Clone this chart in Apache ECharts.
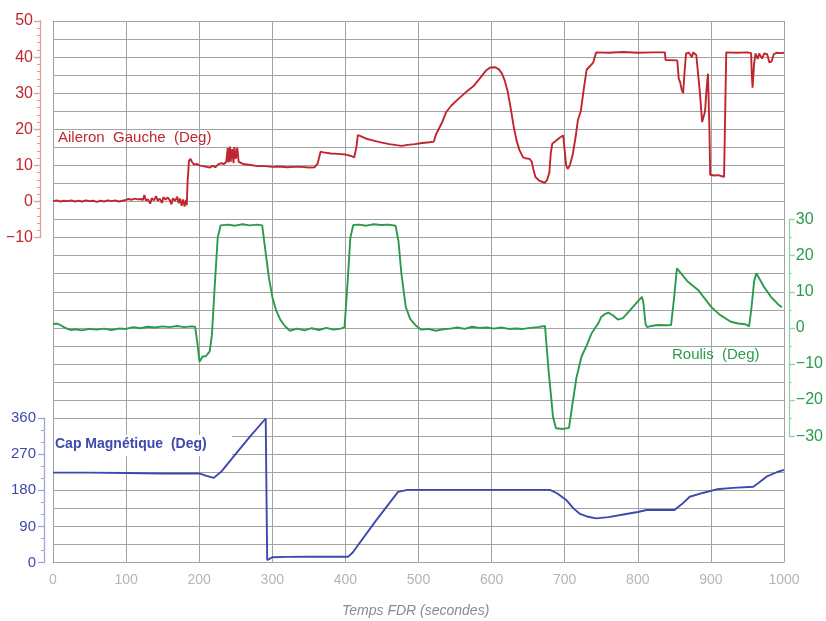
<!DOCTYPE html>
<html><head><meta charset="utf-8">
<script src="https://cdn.jsdelivr.net/npm/echarts@6/dist/echarts.min.js"></script>
<style>html,body{margin:0;padding:0;background:#fff}#c{width:826px;height:621px}</style>
</head><body><div id="c"></div>
<script>
// ---- data ----
const xTicks = [0,100,200,300,400,500,600,700,800,900,1000];
const aileronTicks = [-10,0,10,20,30,40,50];
const roulisTicks = [-30,-20,-10,0,10,20,30];
const capTicks = [0,90,180,270,360];

// Aileron Gauche (Deg) : [time s, deg]
const aileron = [[0,0.1],[5,0.3],[10,0],[15,0.2],[20,0.1],[25,0.3],[30,0],[35,0.2],[40,0],[45,0.3],[50,0.1],[55,0.2],[60,-0.1],[65,0.2],[70,0],[75,0.3],[80,0.1],[85,0.3],[90,0],[95,0.2],[100,0.4],[103,0.7],[108,0.5],[112,0.8],[116,0.6],[120,0.7],[123,0.4],[125,1.8],[127,0.3],[130,0.6],[133,-0.6],[135,0.9],[138,0.3],[141,1.5],[143,0.2],[146,0.8],[149,-0.4],[151,1.2],[154,0.5],[157,1.1],[160,0.3],[162,-0.8],[164,0.9],[167,0.2],[170,1.3],[172,-0.5],[174,0.8],[176,-1.2],[178,0.6],[180,-1.4],[182,0.4],[183,-1.0],[184,5],[186,11.2],[188,11.8],[190,11.0],[193,10.2],[197,10.4],[200,10.0],[205,9.8],[210,9.6],[215,9.4],[218,9.9],[222,9.5],[226,10.3],[230,10.6],[234,10.4],[237,11],[239,14.8],[240,10.8],[242,15.2],[243,11],[245,14.5],[247,10.6],[248,15.1],[250,11.8],[252,14.9],[254,11],[256,10.6],[260,10.4],[270,10.1],[280,9.8],[290,9.8],[300,9.6],[310,9.7],[320,9.5],[330,9.6],[340,9.6],[350,9.4],[358,9.5],[362,10.5],[366,13.8],[370,13.6],[380,13.3],[390,13.2],[400,13.0],[408,12.6],[412,12.2],[415,15],[417,18.4],[420,18.2],[430,17.3],[440,16.8],[450,16.3],[460,15.9],[470,15.6],[477,15.4],[485,15.7],[495,15.9],[505,16.2],[515,16.4],[521,16.6],[524,18.6],[527,19.8],[532,21.8],[538,24.8],[545,26.6],[555,28.5],[565,30.3],[575,31.9],[585,34.4],[592,36.2],[598,37.1],[605,37.2],[610,36.6],[614,35.5],[618,33.5],[622,30.5],[626,26],[630,21],[634,17],[638,14.3],[643,12.2],[648,11.9],[652,11.8],[655,11],[657,9],[660,6.8],[665,5.8],[670,5.4],[673,5.2],[676,6],[679,8],[681,13.5],[683,16],[688,16.8],[694,17.8],[698,18.3],[700,14],[702,10],[704,9],[707,10],[711,13],[715,18],[718,22.5],[722,25],[726,31],[730,36.5],[735,37.6],[739,38.5],[743,41.3],[760,41.2],[780,41.4],[800,41.2],[820,41.3],[837,41.3],[838,39.2],[854,39.1],[856,34],[858,33],[860,31],[862,30],[864,36],[866,41],[870,41.2],[874,40],[876,41.3],[880,40.6],[882,41],[885,30],[888,22],[890,21.5],[892,25],[894,31],[896,35.4],[898,20],[899,7.4],[905,7.2],[910,7.3],[915,7],[918,6.8],[920,30],[921,41.3],[935,41.2],[950,41.3],[955,41.1],[956,35],[957,31.5],[959,38],[961,41],[964,39.5],[966,41],[970,39.6],[973,41],[977,40.8],[980,38.5],[983,38.8],[986,40.8],[990,41.2],[995,41.1],[1000,41.2]];

// Roulis (Deg)
const roulis = [[0,1.0],[5,1.2],[10,0.8],[15,0.2],[20,-0.3],[25,-0.6],[30,-0.4],[40,-0.7],[50,-0.3],[60,-0.5],[70,-0.2],[80,-0.6],[90,-0.2],[100,-0.3],[110,0.2],[120,-0.1],[130,0.3],[140,0.1],[150,0.4],[160,0.2],[170,0.5],[180,0.2],[190,0.4],[195,0.3],[198,-4],[201,-9.4],[205,-8],[210,-7.8],[215,-6.5],[218,-2],[222,12],[226,25],[230,28.4],[240,28.6],[250,28.3],[260,28.7],[270,28.4],[280,28.6],[287,28.4],[291,22],[296,14.2],[301,8.5],[306,4.9],[312,2.2],[319,0.3],[325,-0.8],[335,-0.2],[345,-0.7],[355,-0.1],[365,-0.6],[375,0],[385,-0.5],[395,-0.2],[400,0.2],[404,12],[408,25],[412,28.5],[420,28.6],[430,28.3],[440,28.7],[450,28.5],[460,28.6],[470,28.3],[474,24],[478,15],[484,5.8],[490,2.5],[497,0.8],[505,-0.5],[515,-0.3],[525,-0.8],[535,-0.4],[545,-0.2],[555,0.1],[565,-0.3],[575,0.3],[585,0],[595,0.1],[605,-0.2],[615,0.1],[625,-0.3],[635,-0.2],[645,-0.3],[655,0],[665,0.2],[675,0.5],[680,-12],[686,-24.6],[690,-27.8],[700,-28],[708,-27.7],[712,-22],[718,-14],[725,-8],[732,-5],[739,-1.5],[748,1.2],[752,3],[757,3.8],[762,4.2],[768,3.5],[775,2.3],[782,2.7],[790,4.5],[800,6.8],[808,8.6],[810,7],[813,1],[815,0.2],[820,0.5],[830,0.8],[840,0.7],[848,0.8],[852,8],[856,16.5],[860,15.5],[870,13],[885,10.5],[903,5.8],[915,3.6],[930,1.7],[940,1.2],[950,1],[955,0.4],[958,5],[962,13],[965,15.1],[975,11.5],[985,8.6],[995,6.5],[1000,5.7]];

// Cap Magnétique (Deg)
const cap = [[0,224],[50,224],[100,223],[150,222],[200,222],[210,216],[220,211],[230,226],[250,271],[270,315],[291,359],[292,180],[293,6],[300,13],[320,14],[350,14.5],[380,14.5],[404,14.5],[410,25],[440,100],[472,176],[485,181],[550,181],[600,181],[680,181],[690,172],[702,156],[712,135],[721,121],[732,114],[743,110],[760,113],[784,121],[800,126],[812,131],[850,131],[860,145],[871,164],[890,174],[908,182.5],[930,186],[958,189],[965,198],[976,214],[990,225],[1000,231]];

// ---- chart ----
const RED='#c0262d', GREEN='#2b9a4b', BLUE='#3e49ab';
const L=53, R=42, TOP=21, STEP=18.05;
const chart = echarts.init(document.getElementById('c'), null, {renderer:'canvas'});
const minus = v => String(v).replace('-', '\u2212');
const hiddenX = i => ({gridIndex:i,type:'value',min:0,max:1000,show:false});
function yAx(i,pos,off,min,max,intv,color,light,minor,fs,margin){
  return {gridIndex:i,type:'value',position:pos,offset:off,min:min,max:max,interval:intv,
    axisLine:{show:true,onZero:false,lineStyle:{color:light,width:1.3}},
    axisTick:{show:true,length:6,lineStyle:{color:light,width:1.3}},
    minorTick:{show:true,splitNumber:minor,length:3,lineStyle:{color:light,width:1}},
    splitLine:{show:false},
    axisLabel:{color:color,fontSize:fs,fontFamily:'Liberation Sans, Arial',margin:margin,formatter:minus}};
}
chart.setOption({
  animation:false,
  grid:[
    {left:L,right:R,top:TOP,bottom:58.5},
    {left:L,right:R,top:TOP,height:STEP*12},
    {left:L,right:R,top:TOP+STEP*11,height:STEP*12},
    {left:L,right:R,top:TOP+STEP*22,height:STEP*8}
  ],
  xAxis:[
    {gridIndex:0,type:'value',min:xTicks[0],max:xTicks[xTicks.length-1],interval:100,
      axisLine:{show:false},axisTick:{show:false},
      axisLabel:{color:'#b5b5b5',fontSize:14,fontFamily:'Liberation Sans, Arial',margin:11,formatter:v=>String(v)},
      splitLine:{show:true,lineStyle:{color:'#a2a2a2',width:1}}},
    hiddenX(1),hiddenX(2),hiddenX(3)
  ],
  yAxis:[
    {gridIndex:0,type:'value',min:0,max:30,interval:1,axisLine:{show:false},axisTick:{show:false},axisLabel:{show:false},
      splitLine:{show:true,lineStyle:{color:'#a2a2a2',width:1}}},
    yAx(1,'left',13,aileronTicks[0],aileronTicks[aileronTicks.length-1],10,RED,'#e39a9e',5,16,7),
    yAx(2,'right',7,roulisTicks[0],roulisTicks[roulisTicks.length-1],10,GREEN,'#95d1a4',2,16,7),
    yAx(3,'left',9,capTicks[0],capTicks[capTicks.length-1],90,BLUE,'#9ea5da',3,15,8)
  ],
  series:[
    {type:'line',xAxisIndex:1,yAxisIndex:1,data:aileron,showSymbol:false,clip:false,z:5,lineStyle:{color:RED,width:1.9}},
    {type:'line',xAxisIndex:2,yAxisIndex:2,data:roulis,showSymbol:false,clip:false,z:5,lineStyle:{color:GREEN,width:1.9}},
    {type:'line',xAxisIndex:3,yAxisIndex:3,data:cap,showSymbol:false,clip:false,z:5,lineStyle:{color:BLUE,width:1.9}}
  ],
  graphic:[
    {type:'text',left:58,top:130,z:6,style:{text:'Aileron  Gauche  (Deg)',fill:RED,font:'15px "Liberation Sans", Arial'}},
    {type:'text',left:672,top:347,z:6,style:{text:'Roulis  (Deg)',fill:GREEN,font:'15px "Liberation Sans", Arial'}},
    {type:'rect',left:54,top:435,z:1,shape:{width:178,height:21},style:{fill:'#fff'}},
    {type:'text',left:55,top:437,z:6,style:{text:'Cap Magnétique  (Deg)',fill:BLUE,font:'bold 14px "Liberation Sans", Arial'}},
    {type:'text',left:342,top:604,style:{text:'Temps FDR (secondes)',fill:'#8a8a8a',font:'italic 14px "Liberation Sans", Arial'}}
  ]
});
</script></body></html>
